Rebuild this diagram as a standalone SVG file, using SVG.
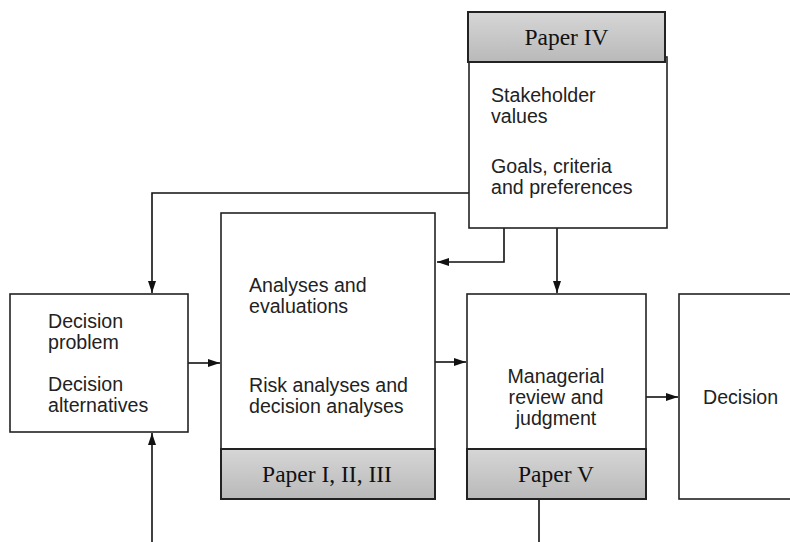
<svg xmlns="http://www.w3.org/2000/svg" width="790" height="542" viewBox="0 0 790 542">
<defs>
<linearGradient id="hdr" x1="0" y1="0" x2="0" y2="1">
<stop offset="0" stop-color="#d6d6d6"/>
<stop offset="1" stop-color="#b9b9b9"/>
</linearGradient>
<marker id="arr" markerWidth="12" markerHeight="8" refX="12" refY="4" orient="auto" markerUnits="userSpaceOnUse">
<path d="M0,0 L12,4 L0,8 Z" fill="#111"/>
</marker>
</defs>
<style>
.box{fill:#fff;stroke:#222;stroke-width:1.6}
.hdr{fill:url(#hdr);stroke:#222;stroke-width:2}
.t{font-family:"Liberation Sans",Arial,sans-serif;font-size:19.6px;fill:#222}
.p{font-family:"Liberation Serif","Times New Roman",serif;font-size:23.5px;fill:#111}
.c{fill:none;stroke:#111;stroke-width:1.6}
</style>
<rect width="790" height="542" fill="#fff"/>
<g id="connectors">
<path class="c" d="M469,193 H152 V293" marker-end="url(#arr)"/>
<path class="c" d="M504,228 V262 H437" marker-end="url(#arr)"/>
<path class="c" d="M557,228 V293" marker-end="url(#arr)"/>
<path class="c" d="M188,363 H220" marker-end="url(#arr)"/>
<path class="c" d="M152,542 V433" marker-end="url(#arr)"/>
<path class="c" d="M435,362 H466" marker-end="url(#arr)"/>
<path class="c" d="M646,397 H678" marker-end="url(#arr)"/>
<path class="c" d="M539,499 V542"/>
</g>
<g id="paper4">
<rect class="box" x="469" y="57" width="198" height="171"/>
<rect class="hdr" x="468" y="12" width="197" height="50"/>
<text class="p" x="566.5" y="45" text-anchor="middle">Paper IV</text>
<text class="t" x="491" y="102">Stakeholder</text>
<text class="t" x="491" y="123">values</text>
<text class="t" x="491" y="173">Goals, criteria</text>
<text class="t" x="491" y="194">and preferences</text>
</g>
<g id="decision-problem">
<rect class="box" x="10" y="294" width="178" height="138"/>
<text class="t" x="48" y="328">Decision</text>
<text class="t" x="48" y="349">problem</text>
<text class="t" x="48" y="391">Decision</text>
<text class="t" x="48" y="412">alternatives</text>
</g>
<g id="analyses">
<rect class="box" x="221" y="213" width="214" height="236"/>
<rect class="hdr" x="221" y="449" width="214" height="50"/>
<text class="p" x="327" y="482" text-anchor="middle">Paper I, II, III</text>
<text class="t" x="249" y="292">Analyses and</text>
<text class="t" x="249" y="313">evaluations</text>
<text class="t" x="249" y="392">Risk analyses and</text>
<text class="t" x="249" y="413">decision analyses</text>
</g>
<g id="managerial">
<rect class="box" x="467" y="294" width="179" height="155"/>
<rect class="hdr" x="467" y="449" width="179" height="50"/>
<text class="p" x="556" y="482" text-anchor="middle">Paper V</text>
<text class="t" x="556" y="383" text-anchor="middle">Managerial</text>
<text class="t" x="556" y="404" text-anchor="middle">review and</text>
<text class="t" x="556" y="425" text-anchor="middle">judgment</text>
</g>
<g id="decision">
<rect class="box" x="679" y="294" width="120" height="205"/>
<text class="t" x="703" y="404">Decision</text>
</g>
</svg>
